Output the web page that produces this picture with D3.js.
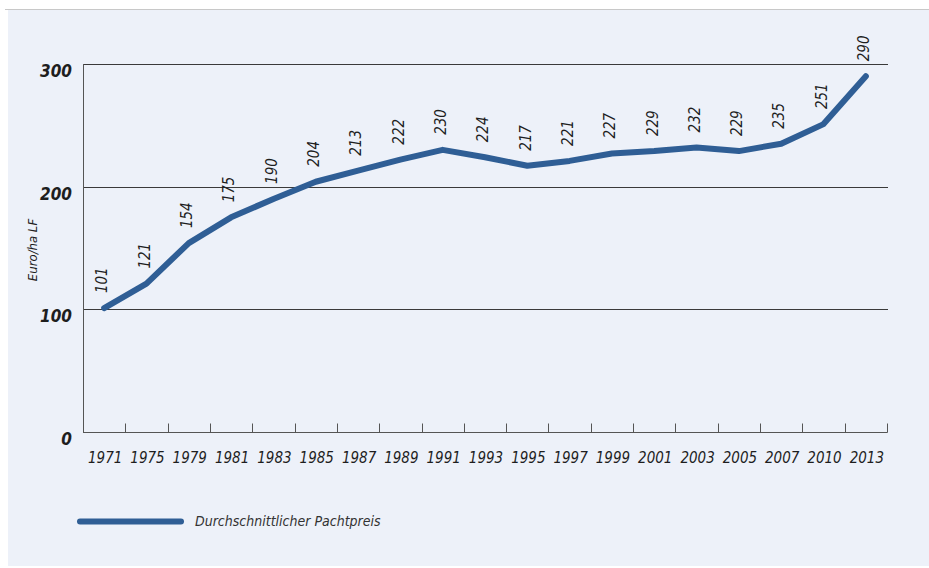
<!DOCTYPE html>
<html>
<head>
<meta charset="utf-8">
<script src="https://cdn.jsdelivr.net/npm/d3@7"></script>
<style>
body { margin: 0; background: #fff; }
text { font-family: "Liberation Sans Narrow", "DejaVu Sans Condensed", sans-serif; font-style: italic; fill: #1e1e1e; }
</style>
</head>
<body>
<svg id="chart" width="929" height="568"></svg>
<script>
// data
var years = ["1971","1975","1979","1981","1983","1985","1987","1989","1991","1993",
             "1995","1997","1999","2001","2003","2005","2007","2010","2013"];
var pacht = [101, 121, 154, 175, 190, 204, 213, 222, 230, 224,
             217, 221, 227, 229, 232, 229, 235, 251, 290];
var yTicks = [0, 100, 200, 300];
var seriesName = "Durchschnittlicher Pachtpreis";
var yTitle = "Euro/ha LF";

var layout = {left: 83, right: 887, top: 64, bottom: 432};
var lineColor = "#2f5e95";

var svg = d3.select("#chart");

// background panel
svg.append("rect")
	.attr("x", 8).attr("y", 10)
	.attr("width", 921).attr("height", 556)
	.attr("fill", "#edf1f9");
svg.append("line")
	.attr("x1", 5).attr("x2", 929)
	.attr("y1", 9.5).attr("y2", 9.5)
	.attr("stroke", "#c8c8c8");

var xScale = d3.scaleBand()
	.domain(years)
	.range([layout.left, layout.right]);
var yScale = d3.scaleLinear()
	.domain([0, 300])
	.range([layout.bottom, layout.top]);

// horizontal grid lines
svg.append("g")
	.selectAll("line")
	.data(yTicks.filter(function(d){ return d > 0; }))
	.enter().append("line")
	.attr("x1", layout.left)
	.attr("x2", 888)
	.attr("y1", function(d){ return Math.round(yScale(d)) + 0.5; })
	.attr("y2", function(d){ return Math.round(yScale(d)) + 0.5; })
	.attr("stroke", "#3a3a3a")
	.attr("stroke-width", 1);

// y axis line
svg.append("line")
	.attr("x1", layout.left + 0.5).attr("x2", layout.left + 0.5)
	.attr("y1", layout.top).attr("y2", layout.bottom)
	.attr("stroke", "#555");

// y tick labels
svg.append("g")
	.selectAll("text")
	.data(yTicks)
	.enter().append("text")
	.attr("x", 72)
	.attr("y", function(d){ return yScale(d) + 7; })
	.attr("dy", "0.35em")
	.attr("text-anchor", "end")
	.style("font-size", "17px")
	.style("font-weight", "bold")
	.text(function(d){ return d; });

// y title
svg.append("text")
	.attr("transform", "translate(37,250) rotate(-90)")
	.attr("text-anchor", "middle")
	.style("font-size", "13px")
	.text(yTitle);

// x axis with ticks at band edges
var xAxis = svg.append("g")
	.attr("transform", "translate(0," + (layout.bottom + 0.5) + ")");
xAxis.append("line")
	.attr("x1", layout.left).attr("x2", layout.right + 0.5)
	.attr("stroke", "#555");
xAxis.selectAll("line.tick")
	.data(years)
	.enter().append("line")
	.attr("class", "tick")
	.attr("x1", function(d){ return Math.round(xScale(d) + xScale.bandwidth()) + 0.5; })
	.attr("x2", function(d){ return Math.round(xScale(d) + xScale.bandwidth()) + 0.5; })
	.attr("y1", 0).attr("y2", -9)
	.attr("stroke", "#555");
xAxis.selectAll("text")
	.data(years)
	.enter().append("text")
	.attr("x", function(d){ return xScale(d) + xScale.bandwidth() / 2 + 1; })
	.attr("y", 25)
	.attr("dy", "0.35em")
	.attr("text-anchor", "middle")
	.style("font-size", "15px")
	.text(function(d){ return d; });

// the series line
var lineGenerator = d3.line()
	.x(function(d, i){ return xScale(years[i]) + xScale.bandwidth() / 2; })
	.y(function(d){ return yScale(d); });

svg.append("path")
	.datum(pacht)
	.attr("d", lineGenerator)
	.attr("fill", "none")
	.attr("stroke", lineColor)
	.attr("stroke-width", 6)
	.attr("stroke-linejoin", "round")
	.attr("stroke-linecap", "round");

// value labels, rotated
svg.append("g")
	.selectAll("text")
	.data(pacht)
	.enter().append("text")
	.attr("transform", function(d, i){
		var cx = xScale(years[i]) + xScale.bandwidth() / 2 - 2;
		return "translate(" + cx + "," + (yScale(d) - 15) + ") rotate(-90)";
	})
	.attr("dy", "0.35em")
	.attr("text-anchor", "start")
	.style("font-size", "15px")
	.text(function(d){ return d; });

// legend
svg.append("line")
	.attr("x1", 80).attr("x2", 181)
	.attr("y1", 521.5).attr("y2", 521.5)
	.attr("stroke", lineColor)
	.attr("stroke-width", 6)
	.attr("stroke-linecap", "round");
svg.append("text")
	.attr("x", 195)
	.attr("y", 521)
	.attr("dy", "0.35em")
	.style("font-size", "14px")
	.style("fill", "#333")
	.text(seriesName);
</script>
</body>
</html>
